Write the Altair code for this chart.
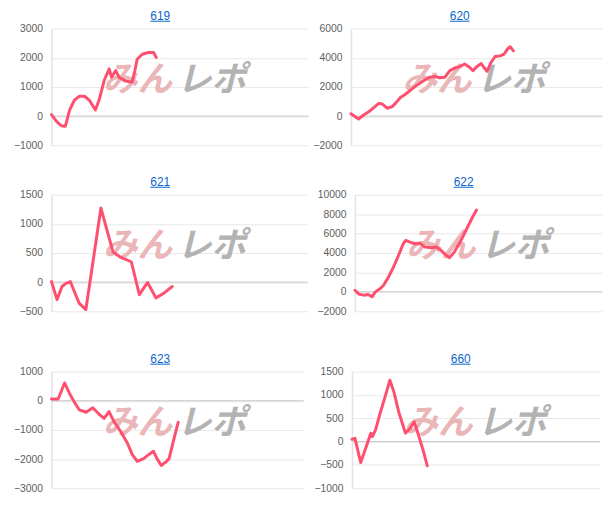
import altair as alt
import pandas as pd

titles = ["619", "620", "621", "622", "623", "660"]

x619 = [0, 2.0, 3.9, 5.5, 7.2, 9.1, 11.1, 13.1, 15.0, 17.4, 18.9, 20.9, 22.9, 23.8, 25.5, 26.8, 29.4, 32.0, 33.1, 34.0, 36.0, 38.5, 40.5, 41.6]
y619 = [50, -180, -330, -350, 210, 550, 680, 680, 550, 210, 550, 1220, 1620, 1335, 1560, 1335, 1200, 1165, 1560, 1950, 2120, 2180, 2180, 2010]

x620 = [0, 3.0, 5.2, 7.2, 9.2, 11.1, 12.5, 14.4, 16.4, 17.7, 19.7, 21.7, 23.6, 25.6, 27.6, 29.5, 31.5, 33.5, 35.4, 37.4, 39.4, 41.3, 43.3, 45.3, 46.9, 48.6, 50.1, 51.9, 52.9, 54.2, 55.8, 57.4, 59.4, 61.0, 62.3, 63.4, 64.7]
y620 = [155, -200, 90, 310, 600, 875, 830, 540, 650, 875, 1280, 1500, 1770, 2040, 2270, 2490, 2670, 2720, 2630, 2670, 3120, 3300, 3390, 3570, 3390, 3120, 3390, 3610, 3350, 3075, 3680, 4090, 4130, 4250, 4590, 4760, 4470]

x621 = [0, 2.2, 4.2, 5.8, 7.5, 9.4, 11.0, 13.7, 19.7, 24.5, 27.2, 31.8, 35.0, 38.3, 41.6, 44.9, 48.1]
y621 = [10, -300, -75, -20, 10, -190, -360, -470, 1270, 520, 435, 350, -215, -5, -270, -185, -75]

x622 = [0, 1.6, 3.6, 5.3, 6.9, 8.2, 10.2, 11.5, 13.5, 15.5, 17.5, 19.4, 20.4, 22.1, 24.1, 26.1, 28.1, 30.7, 32.7, 34.6, 36.6, 38.0, 39.9, 42.6, 45.2, 47.2, 48.8]
y622 = [170, -230, -340, -270, -510, 0, 340, 680, 1540, 2560, 3760, 4950, 5290, 5120, 4950, 5020, 4610, 4540, 4610, 4270, 3760, 3520, 4090, 5290, 6650, 7680, 8430]

x623 = [0, 2.7, 5.3, 7.3, 9.3, 11.3, 14.0, 16.7, 19.3, 21.3, 23.3, 25.3, 28.0, 30.7, 32.7, 34.7, 37.3, 39.3, 41.3, 42.7, 44.4, 46.3, 47.6, 49.3, 51.3]
y623 = [58, 58, 610, 250, -55, -315, -395, -240, -465, -600, -375, -715, -1055, -1450, -1850, -2075, -1985, -1850, -1735, -1985, -2220, -2095, -1985, -1395, -735]

x660 = [0, 1.2, 3.5, 5.5, 7.5, 8.1, 9.4, 11.4, 13.4, 15.1, 16.7, 18.6, 21.3, 23.2, 24.8, 26.5, 28.5, 30.0]
y660 = [50, 70, -450, -140, 180, 105, 250, 640, 995, 1315, 1065, 640, 180, 285, 425, 140, -215, -520]

xs_all = [x619, x620, x621, x622, x623, x660]
ys_all = [y619, y620, y621, y622, y623, y660]

y_domains = [(-1000, 3000), (-2000, 6000), (-500, 1500), (-2000, 10000), (-3000, 1000), (-1000, 1500)]
y_steps = [1000, 2000, 500, 2000, 1000, 500]

# layout / style
x_max = [102, 100, 102, 99.2, 102, 98.8]
widths = [260, 254, 259, 250, 255, 251]
extents = [37, 38, 38, 44, 42, 45]
HEIGHT = 118
LINE_COLOR = "#ff4f6f"
LINK_COLOR = "#0a66c8"
FONT = "Liberation Sans"


def panel(i):
    df = pd.DataFrame({"x": xs_all[i], "y": ys_all[i]})
    lo, hi = y_domains[i]
    ticks = list(range(lo, hi + 1, y_steps[i]))
    xsc = alt.Scale(domain=[0, x_max[i]], nice=False, zero=False)
    ysc = alt.Scale(domain=[lo, hi], nice=False, zero=False)
    yaxis = alt.Axis(
        values=ticks, title=None, ticks=False, labelPadding=9, format="d",
        labelOverlap=False, labelFlush=False,
        labelFontSize=10.5, labelColor="#5e5e5e", labelFont=FONT,
        grid=True, gridColor="#e8e8e8", gridWidth=1,
        domain=True, domainColor="#e2e2e2", domainWidth=1.5,
        minExtent=extents[i], maxExtent=extents[i],
    )

    zero = alt.Chart(pd.DataFrame({"z": [0]})).mark_rule(
        color="#c6c6c6", strokeWidth=1
    ).encode(y=alt.Y("z:Q", scale=ysc, axis=yaxis))

    line = alt.Chart(df).mark_line(
        color=LINE_COLOR, strokeWidth=3, strokeJoin="round", strokeCap="round"
    ).encode(
        x=alt.X("x:Q", scale=xsc, axis=None),
        y=alt.Y("y:Q", scale=ysc, axis=yaxis),
    )

    wm1 = alt.Chart(pd.DataFrame({"t": ["みん"]})).mark_text(
        font="Noto Sans CJK JP", fontSize=35, fontWeight="bold", fontStyle="italic",
        color="#eab6b8", align="right", baseline="middle"
    ).encode(x=alt.value(122), y=alt.value(52), text="t:N")

    wm2 = alt.Chart(pd.DataFrame({"t": ["レポ"]})).mark_text(
        font="Noto Sans CJK JP", fontSize=35, fontWeight="bold", fontStyle="italic",
        color="#b3b3b3", align="left", baseline="middle"
    ).encode(x=alt.value(127), y=alt.value(52), text="t:N")

    title = alt.Chart(pd.DataFrame({"t": [titles[i]]})).mark_text(
        font=FONT, fontSize=12, color=LINK_COLOR, align="center", baseline="alphabetic"
    ).encode(x=alt.value(110), y=alt.value(-9), text="t:N")

    underline = alt.Chart(pd.DataFrame({"t": [titles[i]]})).mark_rule(
        color=LINK_COLOR, strokeWidth=1
    ).encode(x=alt.value(100), x2=alt.value(120), y=alt.value(-7.5))

    return alt.layer(zero, wm1, wm2, line, title, underline).properties(
        width=widths[i], height=HEIGHT
    )


row1 = alt.hconcat(panel(0), panel(1), spacing=3)
row2 = alt.hconcat(panel(2), panel(3), spacing=3)
row3 = alt.hconcat(panel(4), panel(5), spacing=3)

chart = alt.vconcat(
    alt.vconcat(row1, row2, spacing=25),
    row3,
    spacing=36,
).properties(
    padding={"left": 2, "top": -1, "right": 0, "bottom": 0}
).configure_view(stroke=None)

chart.save("out.html", embed_options={"renderer": "svg", "actions": False})
